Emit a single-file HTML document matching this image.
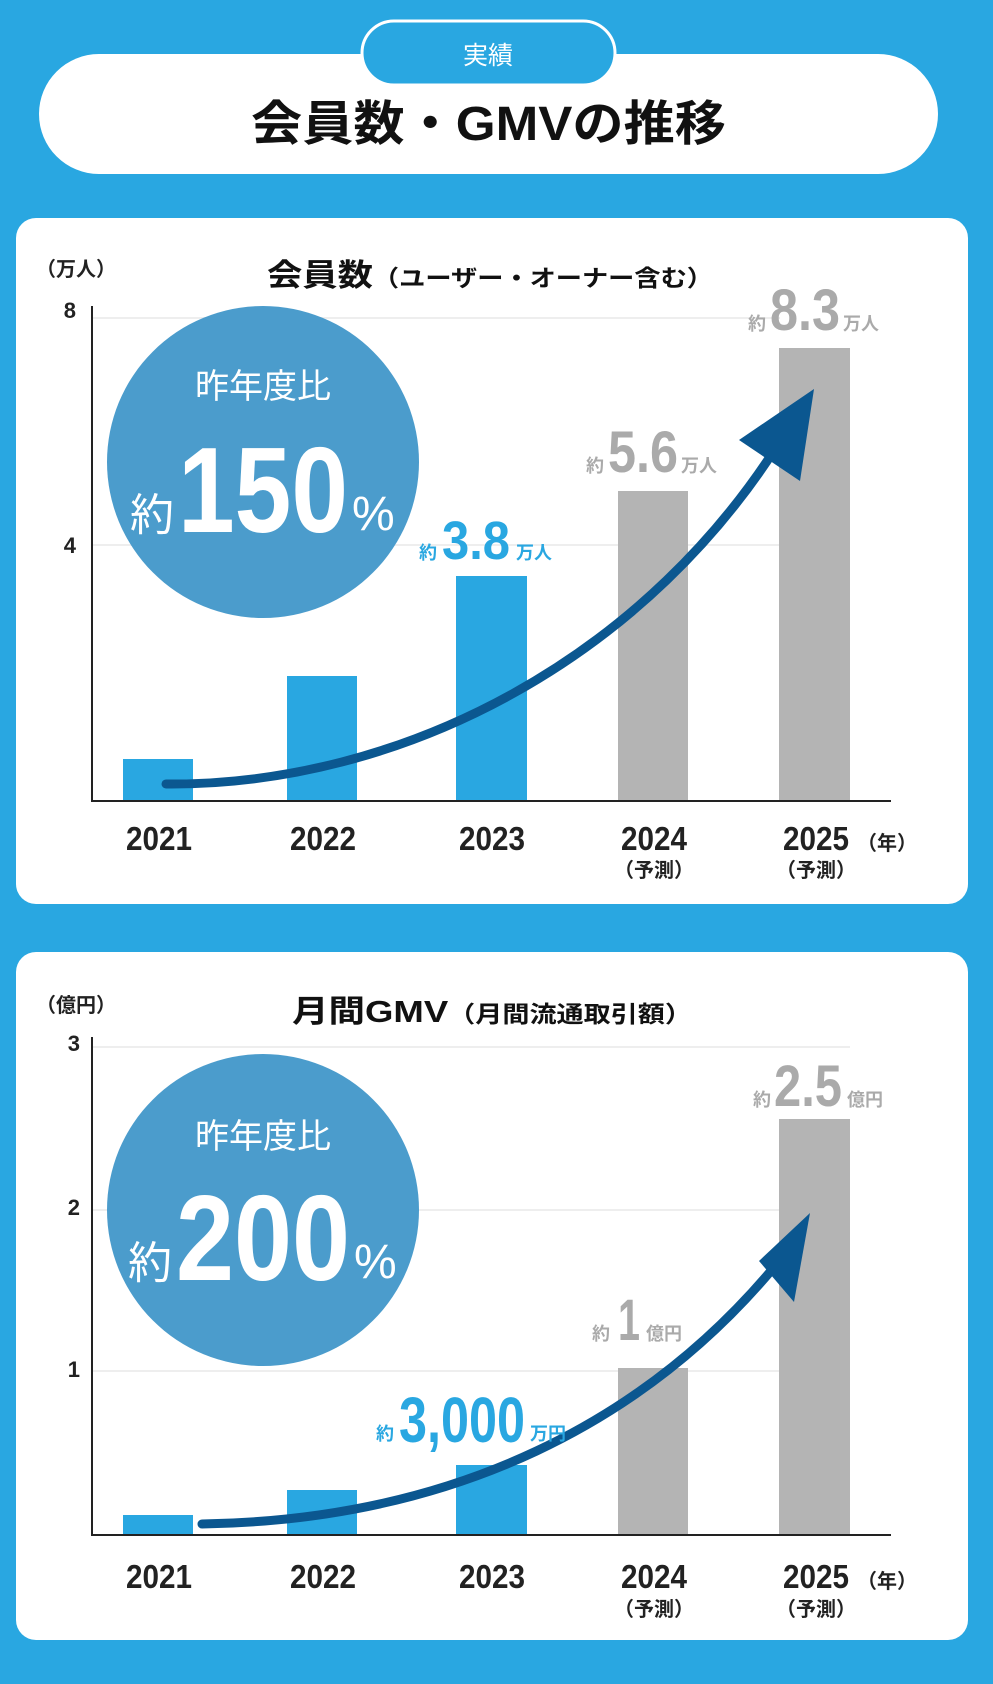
<!DOCTYPE html>
<html><head><meta charset="utf-8"><style>
html,body{margin:0;padding:0;background:#29a7e1;}
svg{display:block;}
text{font-family:"Liberation Sans","Noto Sans CJK JP",sans-serif;}
</style></head><body>
<svg width="993" height="1684" viewBox="0 0 993 1684" xmlns="http://www.w3.org/2000/svg">
<rect x="0" y="0" width="993" height="1684" fill="#29a7e1"/>
<!-- header -->
<rect x="39" y="54" width="899" height="120" rx="60" fill="#fff"/>
<rect x="362" y="21" width="253" height="64" rx="32" fill="#29a7e1" stroke="#fff" stroke-width="3"/>
<text x="488" y="64" font-size="25" fill="#fff" text-anchor="middle">実績</text>
<text x="251" y="140" font-size="48" font-weight="bold" fill="#111" textLength="475" lengthAdjust="spacingAndGlyphs">会員数・GMVの推移</text>

<!-- card 1 -->
<rect x="16" y="218" width="952" height="686" rx="20" fill="#fff"/>
<text x="36" y="276" font-size="20" font-weight="bold" fill="#222">（万人）</text>
<text x="267" y="286" font-size="31" font-weight="bold" fill="#111" textLength="446" lengthAdjust="spacingAndGlyphs">会員数<tspan font-size="23">（ユーザー・オーナー含む）</tspan></text>
<line x1="92" y1="318" x2="780" y2="318" stroke="#eee" stroke-width="2"/>
<line x1="92" y1="545" x2="780" y2="545" stroke="#eee" stroke-width="2"/>
<text x="76" y="318" font-size="22" font-weight="bold" fill="#222" text-anchor="end">8</text>
<text x="76" y="553" font-size="22" font-weight="bold" fill="#222" text-anchor="end">4</text>
<rect x="123" y="759" width="70" height="42" fill="#29a7e1"/>
<rect x="287" y="676" width="70" height="125" fill="#29a7e1"/>
<rect x="456" y="576" width="71" height="225" fill="#29a7e1"/>
<rect x="618" y="491" width="70" height="310" fill="#b4b4b4"/>
<rect x="779" y="348" width="71" height="453" fill="#b4b4b4"/>
<line x1="92" y1="306" x2="92" y2="802" stroke="#222" stroke-width="2"/>
<line x1="91" y1="801" x2="891" y2="801" stroke="#222" stroke-width="2"/>
<circle cx="263" cy="462" r="156" fill="#4b9ccc"/>
<text x="263" y="398" font-size="34" fill="#fff" text-anchor="middle">昨年度比</text>
<text x="130" y="530" font-size="44" fill="#fff">約</text>
<text x="178" y="532" font-size="122" font-weight="bold" fill="#fff" textLength="170" lengthAdjust="spacingAndGlyphs">150</text>
<text x="352" y="530" font-size="48" fill="#fff">%</text>
<path d="M166,784 C400,786 650,660 790,425" fill="none" stroke="#0b5790" stroke-width="9" stroke-linecap="round"/>
<polygon points="739,440 814,389 800,481" fill="#0b5790"/>
<g font-weight="bold">
<text x="419" y="559" font-size="18" fill="#29a7e1">約</text>
<text x="442" y="559" font-size="54" fill="#29a7e1" textLength="68" lengthAdjust="spacingAndGlyphs">3.8</text>
<text x="516" y="559" font-size="18" fill="#29a7e1">万人</text>
<text x="586" y="472" font-size="18" fill="#aaa">約</text>
<text x="608" y="472" font-size="58" fill="#aaa" textLength="70" lengthAdjust="spacingAndGlyphs">5.6</text>
<text x="681" y="472" font-size="18" fill="#aaa">万人</text>
<text x="748" y="330" font-size="18" fill="#aaa">約</text>
<text x="770" y="330" font-size="58" fill="#aaa" textLength="70" lengthAdjust="spacingAndGlyphs">8.3</text>
<text x="843" y="330" font-size="18" fill="#aaa">万人</text>
</g>
<g font-size="33" font-weight="bold" fill="#222" text-anchor="middle">
<text x="159" y="850" textLength="66" lengthAdjust="spacingAndGlyphs">2021</text>
<text x="323" y="850" textLength="66" lengthAdjust="spacingAndGlyphs">2022</text>
<text x="492" y="850" textLength="66" lengthAdjust="spacingAndGlyphs">2023</text>
<text x="654" y="850" textLength="66" lengthAdjust="spacingAndGlyphs">2024</text>
<text x="816" y="850" textLength="66" lengthAdjust="spacingAndGlyphs">2025</text>
</g>
<g font-size="20" font-weight="bold" fill="#222" text-anchor="middle">
<text x="654" y="877">（予測）</text>
<text x="816" y="877">（予測）</text>
<text x="887" y="850">（年）</text>
</g>

<!-- card 2 -->
<rect x="16" y="952" width="952" height="688" rx="20" fill="#fff"/>
<text x="36" y="1012" font-size="20" font-weight="bold" fill="#222">（億円）</text>
<text x="292" y="1022" font-size="31" font-weight="bold" fill="#111" textLength="400" lengthAdjust="spacingAndGlyphs">月間GMV<tspan font-size="23">（月間流通取引額）</tspan></text>
<line x1="92" y1="1047" x2="850" y2="1047" stroke="#eee" stroke-width="2"/>
<line x1="92" y1="1210" x2="780" y2="1210" stroke="#eee" stroke-width="2"/>
<line x1="92" y1="1371" x2="780" y2="1371" stroke="#eee" stroke-width="2"/>
<text x="80" y="1051" font-size="22" font-weight="bold" fill="#222" text-anchor="end">3</text>
<text x="80" y="1215" font-size="22" font-weight="bold" fill="#222" text-anchor="end">2</text>
<text x="80" y="1377" font-size="22" font-weight="bold" fill="#222" text-anchor="end">1</text>
<rect x="123" y="1515" width="70" height="20" fill="#29a7e1"/>
<rect x="287" y="1490" width="70" height="45" fill="#29a7e1"/>
<rect x="456" y="1465" width="71" height="70" fill="#29a7e1"/>
<rect x="618" y="1368" width="70" height="167" fill="#b4b4b4"/>
<rect x="779" y="1119" width="71" height="416" fill="#b4b4b4"/>
<line x1="92" y1="1037" x2="92" y2="1536" stroke="#222" stroke-width="2"/>
<line x1="91" y1="1535" x2="891" y2="1535" stroke="#222" stroke-width="2"/>
<circle cx="263" cy="1210" r="156" fill="#4b9ccc"/>
<text x="263" y="1148" font-size="34" fill="#fff" text-anchor="middle">昨年度比</text>
<text x="128" y="1278" font-size="44" fill="#fff">約</text>
<text x="176" y="1280" font-size="122" font-weight="bold" fill="#fff" textLength="174" lengthAdjust="spacingAndGlyphs">200</text>
<text x="354" y="1278" font-size="48" fill="#fff">%</text>
<path d="M202,1524 C450,1520 650,1425 788,1250" fill="none" stroke="#0b5790" stroke-width="9" stroke-linecap="round"/>
<polygon points="759,1261 810,1213 794,1302" fill="#0b5790"/>
<g font-weight="bold">
<text x="376" y="1440" font-size="18" fill="#29a7e1">約</text>
<text x="399" y="1442" font-size="64" fill="#29a7e1" textLength="126" lengthAdjust="spacingAndGlyphs">3,000</text>
<text x="530" y="1440" font-size="18" fill="#29a7e1">万円</text>
<text x="592" y="1340" font-size="18" fill="#aaa">約</text>
<text x="618" y="1340" font-size="58" fill="#aaa" textLength="22" lengthAdjust="spacingAndGlyphs">1</text>
<text x="646" y="1340" font-size="18" fill="#aaa">億円</text>
<text x="753" y="1106" font-size="18" fill="#aaa">約</text>
<text x="774" y="1106" font-size="58" fill="#aaa" textLength="68" lengthAdjust="spacingAndGlyphs">2.5</text>
<text x="847" y="1106" font-size="18" fill="#aaa">億円</text>
</g>
<g font-size="33" font-weight="bold" fill="#222" text-anchor="middle">
<text x="159" y="1588" textLength="66" lengthAdjust="spacingAndGlyphs">2021</text>
<text x="323" y="1588" textLength="66" lengthAdjust="spacingAndGlyphs">2022</text>
<text x="492" y="1588" textLength="66" lengthAdjust="spacingAndGlyphs">2023</text>
<text x="654" y="1588" textLength="66" lengthAdjust="spacingAndGlyphs">2024</text>
<text x="816" y="1588" textLength="66" lengthAdjust="spacingAndGlyphs">2025</text>
</g>
<g font-size="20" font-weight="bold" fill="#222" text-anchor="middle">
<text x="654" y="1616">（予測）</text>
<text x="816" y="1616">（予測）</text>
<text x="887" y="1588">（年）</text>
</g>
</svg>
</body></html>
